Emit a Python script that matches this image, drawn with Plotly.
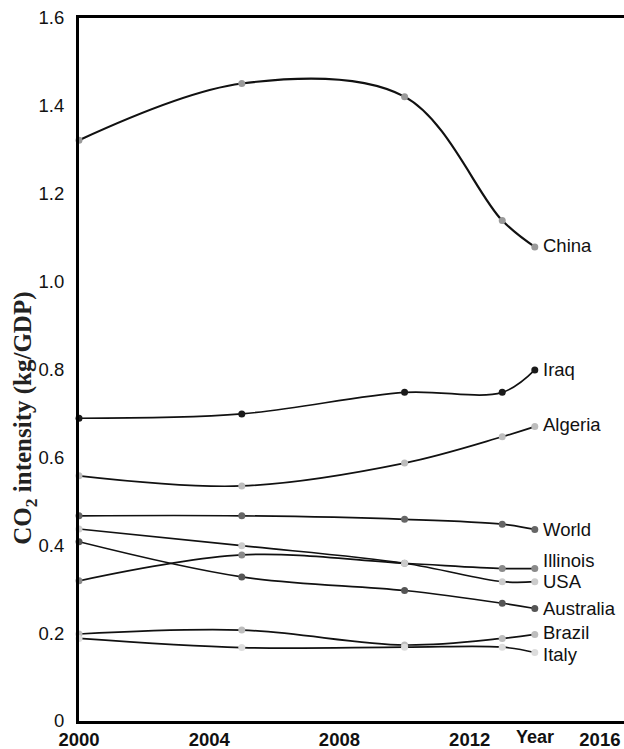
import plotly.graph_objects as go

years = [2000, 2005, 2010, 2013, 2014]

countries = ["China", "Iraq", "Algeria", "World", "Illinois", "USA", "Australia", "Brazil", "Italy"]
china = [1.322, 1.451, 1.421, 1.139, 1.079]
iraq = [0.689, 0.699, 0.748, 0.748, 0.799]
algeria = [0.558, 0.535, 0.587, 0.647, 0.670]
world = [0.467, 0.467, 0.459, 0.448, 0.436]
illinois = [0.319, 0.378, 0.359, 0.347, 0.347]
usa = [0.437, 0.399, 0.359, 0.317, 0.317]
australia = [0.408, 0.328, 0.297, 0.268, 0.256]
brazil = [0.198, 0.207, 0.173, 0.188, 0.197]
italy = [0.188, 0.167, 0.168, 0.168, 0.156]

series = [china, iraq, algeria, world, illinois, usa, australia, brazil, italy]
marker_colors = ["#9a9a9a", "#1a1a1a", "#bdbdbd", "#666666", "#8a8a8a",
                 "#cccccc", "#555555", "#bdbdbd", "#dddddd"]
label_shift = {"Illinois": 8, "Algeria": 2, "Brazil": 2, "Italy": -2, "China": 1}

y_ticks = [0, 0.2, 0.4, 0.6, 0.8, 1.0, 1.2, 1.4, 1.6]
y_tick_text = ["0", "0.2", "0.4", "0.6", "0.8", "1.0", "1.2", "1.4", "1.6"]
x_ticks = [2000, 2004, 2008, 2012, 2016]

SANS = "Arial, Liberation Sans, sans-serif"

fig = go.Figure()
for name, vals, mc in zip(countries, series, marker_colors):
    fig.add_trace(go.Scatter(
        x=years, y=vals, mode="lines+markers", name=name,
        line=dict(color="#111111", width=2.2 if name == "China" else 1.7,
                  shape="spline", smoothing=1.0),
        marker=dict(color=mc, size=7),
        showlegend=False, cliponaxis=False,
    ))
    fig.add_annotation(
        x=years[-1], y=vals[-1], text=name, showarrow=False,
        xanchor="left", yanchor="middle", xshift=6,
        yshift=label_shift.get(name, 0),
        font=dict(family=SANS, size=18.5, color="#111111"),
    )

fig.add_annotation(
    xref="paper", yref="paper", x=0, xanchor="center", xshift=-54, y=0.43,
    text="<b>CO<sub>2</sub> intensity (kg/GDP)</b>", textangle=-90, showarrow=False,
    font=dict(family="Liberation Serif, Times New Roman, serif", size=25, color="#222222"),
)

fig.add_annotation(
    x=2014, xref="x", yref="paper", y=0, yshift=-16, text="<b>Year</b>",
    showarrow=False, yanchor="middle",
    font=dict(family=SANS, size=18, color="#111111"),
)

fig.update_layout(
    width=624, height=749,
    margin=dict(l=79, r=0, t=18, b=28),
    plot_bgcolor="white", paper_bgcolor="white",
    xaxis=dict(range=[2000, 2016.74], tickvals=x_ticks,
               ticktext=["<b>%d</b>" % t for t in x_ticks],
               showgrid=False, zeroline=False, showline=True, linecolor="black",
               linewidth=3, mirror=True, ticks="",
               tickfont=dict(family=SANS, size=18.5, color="#111111")),
    yaxis=dict(range=[0, 1.6], tickvals=y_ticks, ticktext=y_tick_text,
               showgrid=False, zeroline=False, showline=True, linecolor="black",
               linewidth=3, ticks="", ticklabelstandoff=8,
               tickfont=dict(family=SANS, size=18.5, color="#111111")),
)

fig.write_html("out.html", config={"displayModeBar": False},
               post_script="document.body.style.margin='0';document.body.style.overflow='hidden';")
